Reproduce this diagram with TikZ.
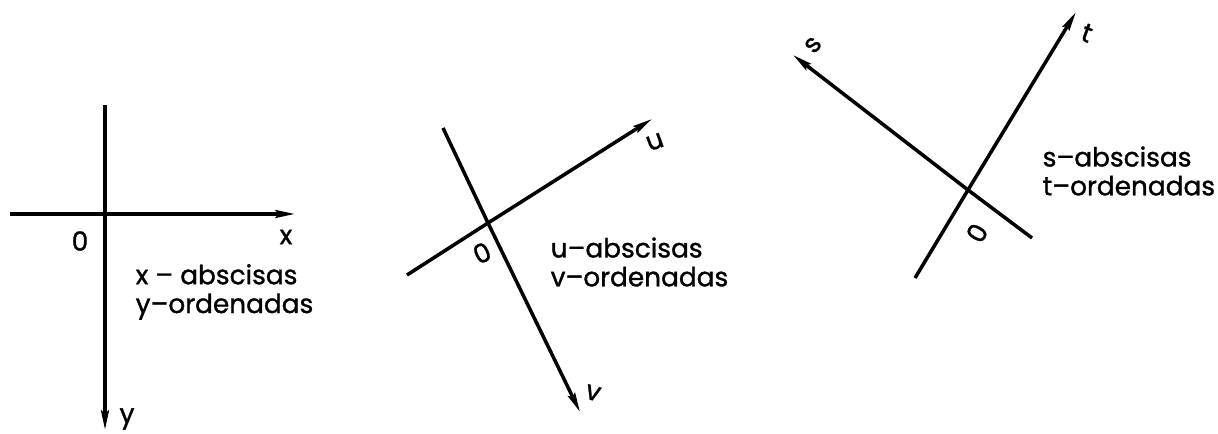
\documentclass[tikz,border=0pt]{standalone}
\usepackage{fontspec}
\setmainfont{Poppins}
\newfontfamily\letra{Poppins}[FakeBold=1.2]
\usetikzlibrary{calc, positioning}
\usetikzlibrary{arrows.meta}

\tikzset{
  axis/.style={line width=1pt, -{Stealth[length=5.5pt, width=2.2pt, inset=0.8pt]}},
  plainaxis/.style={line width=1pt},
  axlabel/.style={font=\letra\fontsize{7.5}{8}\selectfont, inner sep=0pt},
  legend/.style={font=\letra\fontsize{7.5}{8.2}\selectfont, align=left, anchor=west, inner sep=0pt}
}

\begin{document}
\begin{tikzpicture}
\useasboundingbox (0,0) rectangle (12.18,4.34);

% first system: x to the right, y downwards
\coordinate (Oxy) at (1.05,2.20);
\coordinate (Xleft) at (0.10,2.20);
\coordinate (Xtip) at (2.95,2.20);
\coordinate (Ytop) at (1.05,3.29);
\coordinate (Ytip) at (1.05,0.04);

\draw[plainaxis] (Ytop) -- (Oxy);
\draw[axis] (Oxy) -- (Ytip);
\draw[plainaxis] (Xleft) -- (Oxy);
\draw[axis] (Oxy) -- (Xtip);

\node[axlabel] (zeroA) at (0.80,1.93) {0};
\node[axlabel] (labX) at (2.86,1.97) {x};
\node[axlabel] (labY) at (1.27,0.15) {y};
\node[legend] (legA) at (1.35,1.42) {x – abscisas\\y–ordenadas};

% second system: u, v turned
\coordinate (Ouv) at (4.88,2.11);
\coordinate (Uend) at (4.07,1.59);
\coordinate (Utip) at (6.52,3.15);
\coordinate (Vend) at (4.43,3.06);
\coordinate (Vtip) at (5.80,0.22);

\draw[plainaxis] (Uend) -- (Ouv);
\draw[axis] (Ouv) -- (Utip);
\draw[plainaxis] (Vend) -- (Ouv);
\draw[axis] (Ouv) -- (Vtip);

\node[axlabel, rotate=25] (zeroB) at (4.82,1.81) {0};
\node[axlabel, rotate=20] (labU) at (6.55,2.92) {u};
\node[axlabel, rotate=-15] (labV) at (5.93,0.41) {v};
\node[legend] (legB) at (5.50,1.72) {u–abscisas\\v–ordenadas};

% third system: s, t turned
\coordinate (Ost) at (9.68,2.44);
\coordinate (Tend) at (9.15,1.56);
\coordinate (Ttip) at (10.76,4.22);
\coordinate (Send) at (10.32,1.96);
\coordinate (Stip) at (7.93,3.79);

\draw[plainaxis] (Tend) -- (Ost);
\draw[axis] (Ost) -- (Ttip);
\draw[plainaxis] (Send) -- (Ost);
\draw[axis] (Ost) -- (Stip);

\node[axlabel, rotate=60] (zeroC) at (9.77,2.01) {0};
\node[axlabel, rotate=50] (labS) at (8.13,3.89) {s};
\node[axlabel, rotate=-20] (labT) at (10.87,4.01) {t};
\node[legend] (legC) at (10.42,2.63) {s–abscisas\\t–ordenadas};
\end{tikzpicture}
\end{document}
